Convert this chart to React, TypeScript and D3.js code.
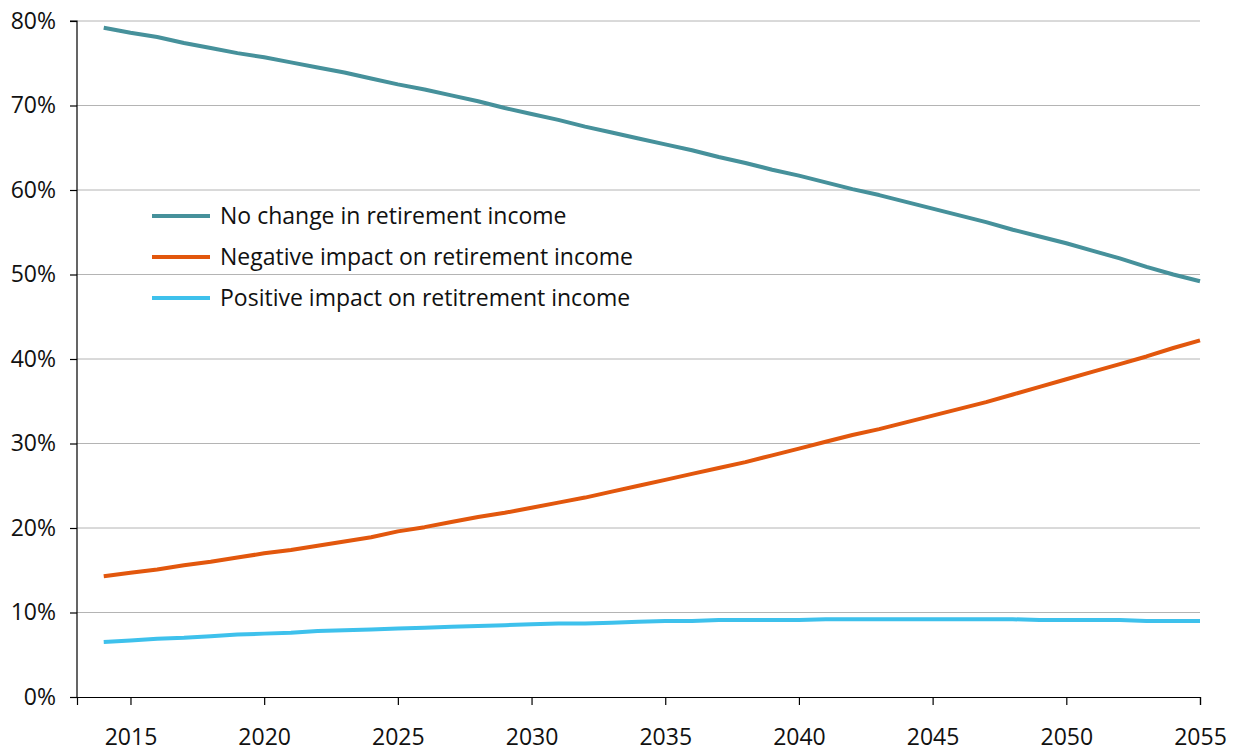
import * as d3 from "d3";
import React, { useRef, useEffect } from "react";

const years = d3.range(2014, 2056);

const noChange = [
  79.2, 78.6, 78.1, 77.4, 76.8, 76.2, 75.7, 75.1, 74.5, 73.9, 73.2, 72.5, 71.9, 71.2,
  70.5, 69.7, 69.0, 68.3, 67.5, 66.8, 66.1, 65.4, 64.7, 63.9, 63.2, 62.4, 61.7, 60.9,
  60.1, 59.4, 58.6, 57.8, 57.0, 56.2, 55.3, 54.5, 53.7, 52.8, 51.9, 50.9, 50.0, 49.2,
];
const negative = [
  14.3, 14.7, 15.1, 15.6, 16.0, 16.5, 17.0, 17.4, 17.9, 18.4, 18.9, 19.6, 20.1, 20.7,
  21.3, 21.8, 22.4, 23.0, 23.6, 24.3, 25.0, 25.7, 26.4, 27.1, 27.8, 28.6, 29.4, 30.2,
  31.0, 31.7, 32.5, 33.3, 34.1, 34.9, 35.8, 36.7, 37.6, 38.5, 39.4, 40.3, 41.3, 42.2,
];
const positive = [
  6.5, 6.7, 6.9, 7.0, 7.2, 7.4, 7.5, 7.6, 7.8, 7.9, 8.0, 8.1, 8.2, 8.3,
  8.4, 8.5, 8.6, 8.7, 8.7, 8.8, 8.9, 9.0, 9.0, 9.1, 9.1, 9.1, 9.1, 9.2,
  9.2, 9.2, 9.2, 9.2, 9.2, 9.2, 9.2, 9.1, 9.1, 9.1, 9.1, 9.0, 9.0, 9.0,
];

const seriesNames = [
  "No change in retirement income",
  "Negative impact on retirement income",
  "Positive impact on retitrement income",
];
const seriesValues = [noChange, negative, positive];
const colors = ["#46919b", "#e2570d", "#3ec1ec"];

const xTicks = [2015, 2020, 2025, 2030, 2035, 2040, 2045, 2050, 2055];
const yTicks = [0, 10, 20, 30, 40, 50, 60, 70, 80];

const W = 1236;
const H = 751;
const margin = { top: 21, right: 36, bottom: 54, left: 77 };
const FONT = "'Open Sans', sans-serif";

const App = () => {
  const svgRef = useRef<SVGSVGElement>(null);

  useEffect(() => {
    const svg = d3.select(svgRef.current);
    svg.selectAll("*").remove();

    const x = d3.scaleLinear().domain([2013, 2055]).range([margin.left, W - margin.right]);
    const y = d3.scaleLinear().domain([0, 80]).range([H - margin.bottom, margin.top]);

    // gridlines
    svg
      .append("g")
      .selectAll("line")
      .data(yTicks.filter(d => d > 0))
      .join("line")
      .attr("x1", x(2013))
      .attr("x2", x(2055))
      .attr("y1", d => y(d))
      .attr("y2", d => y(d))
      .attr("stroke", "#b4b4b4")
      .attr("stroke-width", 1);

    const yAxis = d3
      .axisLeft(y)
      .tickValues(yTicks)
      .tickSize(7)
      .tickPadding(14)
      .tickFormat(d => `${d}%`);
    const gy = svg
      .append("g")
      .attr("transform", `translate(${margin.left},0)`)
      .call(yAxis);

    const xAxis = d3
      .axisBottom(x)
      .tickValues(xTicks)
      .tickSize(8)
      .tickPadding(24)
      .tickFormat(d3.format("d"));
    const gx = svg
      .append("g")
      .attr("transform", `translate(0,${H - margin.bottom})`)
      .call(xAxis);

    [gx, gy].forEach(g => {
      g.select(".domain").attr("stroke", "#000").attr("stroke-width", 1.2);
      g.selectAll(".tick line").attr("stroke", "#000").attr("stroke-width", 1.2);
      g.selectAll(".tick text")
        .attr("fill", "#111")
        .style("font-family", FONT)
        .style("font-size", "23px");
    });
    gy.select(".domain").attr("d", `M-7,${y(80)}H0V${y(0)}`);

    const line = d3
      .line<number>()
      .x((d, i) => x(years[i]))
      .y(d => y(d));

    svg
      .append("g")
      .selectAll("path")
      .data(seriesValues)
      .join("path")
      .attr("d", d => line(d))
      .attr("fill", "none")
      .attr("stroke", (d, i) => colors[i])
      .attr("stroke-width", 4)
      .attr("stroke-linejoin", "round");

    // legend
    const legend = svg
      .append("g")
      .selectAll("g")
      .data(seriesNames)
      .join("g")
      .attr("transform", (d, i) => `translate(152,${216 + i * 41})`);
    legend
      .append("line")
      .attr("x1", 0)
      .attr("x2", 58)
      .attr("stroke", (d, i) => colors[i])
      .attr("stroke-width", 4);
    legend
      .append("text")
      .attr("x", 68)
      .attr("dy", "0.35em")
      .attr("fill", "#111")
      .style("font-family", FONT)
      .style("font-size", "23px")
      .text(d => d);
  }, []);

  return (
    <svg
      ref={svgRef}
      width={W}
      height={H}
      style={{ position: "absolute", left: 0, top: 0, background: "#fff" }}
    />
  );
};

export default App;
